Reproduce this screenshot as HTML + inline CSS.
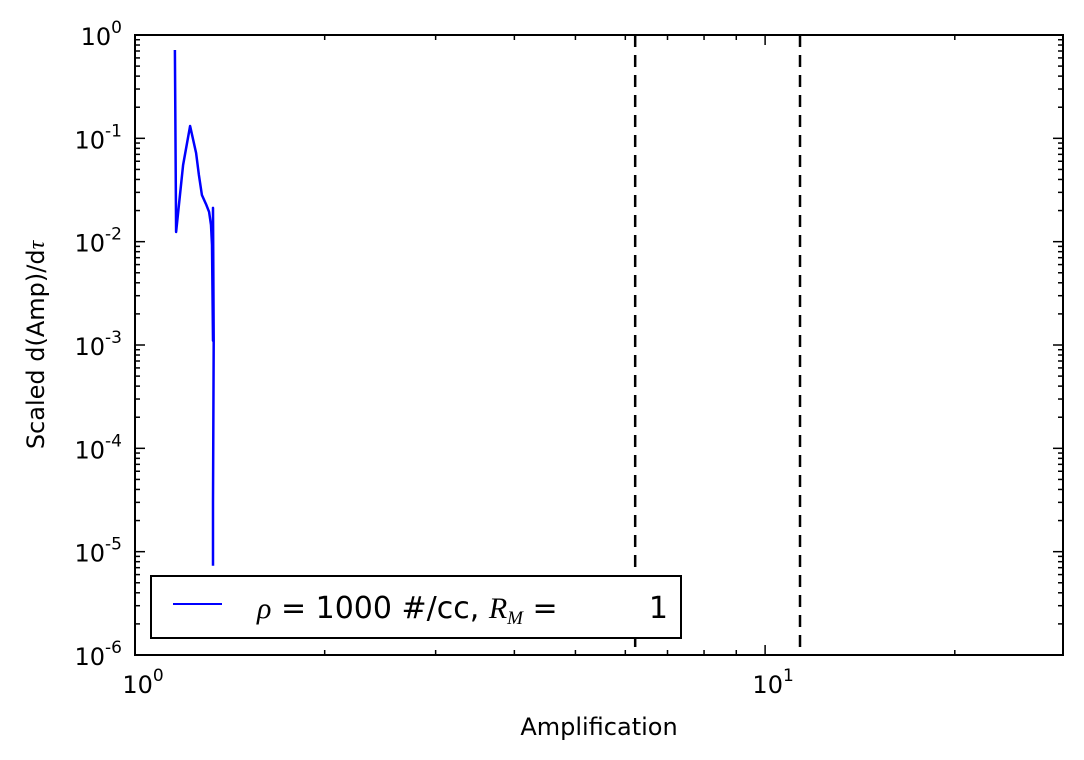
<!DOCTYPE html>
<html><head><meta charset="utf-8">
<style>
html,body{margin:0;padding:0;background:#fff;}
svg{display:block;font-family:"DejaVu Sans","Liberation Sans",sans-serif;}
</style></head>
<body>
<svg id="chart" width="1084" height="760" viewBox="0 0 1084 760" xmlns="http://www.w3.org/2000/svg">
<rect x="0" y="0" width="1084" height="760" fill="#fff"/>
<g id="ticks"></g>
<g id="vlines"></g>
<g id="series"></g>
<rect x="135" y="35" width="928" height="620" fill="none" stroke="#000" stroke-width="2"/>
<g id="labels"></g>
<text x="599" y="735" font-size="24" text-anchor="middle">Amplification</text>
<text transform="translate(44,345) rotate(-90)" font-size="24" text-anchor="middle">Scaled d(Amp)/d<tspan font-family="Liberation Serif,serif" font-style="italic">τ</tspan></text>
<g>
<rect x="151" y="576" width="530" height="62" fill="#fff" stroke="#000" stroke-width="2"/>
<line x1="173" y1="604" x2="222" y2="604" stroke="#0000ff" stroke-width="2"/>
<text x="257" y="618" font-size="30"><tspan font-family="Liberation Serif,serif" font-style="italic">ρ</tspan> = 1000 #/cc, <tspan font-family="Liberation Serif,serif" font-style="italic">R</tspan><tspan font-family="Liberation Serif,serif" font-style="italic" font-size="19" dy="6">M</tspan><tspan dy="-6"> =    </tspan><tspan x="668" text-anchor="end">1</tspan></text>
</g>
</svg>
<script>
const xs = [1.157,1.162,1.192,1.223,1.250,1.263,1.277,1.296,1.311,1.320,1.325,1.330,1.330,1.333,1.330,1.330];
const ys = [0.716,0.0124,0.0552,0.1316,0.0721,0.0442,0.0283,0.0231,0.0194,0.0145,0.0093,0.0011,0.0212,0.0011,0.00003,0.0000073];
const vlineXs = [6.22,11.36];
const yTickExps = [0,-1,-2,-3,-4,-5,-6];
const xTickExps = [0,1];
const NS="http://www.w3.org/2000/svg";
const L=135,R=1063,T=35,B=655,XMIN=0,XMAX=Math.log10(29.7),YMIN=-6,YMAX=0;
function sx(v){return L+(Math.log10(v)-XMIN)/(XMAX-XMIN)*(R-L);}
function sy(v){return B-(Math.log10(v)-YMIN)/(YMAX-YMIN)*(B-T);}
function mk(tag,attrs,parent){const e=document.createElementNS(NS,tag);for(const k in attrs)e.setAttribute(k,attrs[k]);parent.appendChild(e);return e;}
const tg=document.getElementById('ticks'), lg=document.getElementById('labels');
// y ticks
for(let e=-6;e<=0;e++){
  for(let m=1;m<10;m++){
    const v=m*Math.pow(10,e); if(v>1.0001)break; if(m>1&&e===0)break;
    const y=sy(v), len=m===1?10:5;
    const t1=mk('line',{x1:L,x2:L+len,y1:y,y2:y,stroke:'#000','stroke-width':1.5},tg);
    
    
    const t2=mk('line',{x1:R,x2:R-len,y1:y,y2:y,stroke:'#000','stroke-width':1.5},tg);
    
    
  }
}
yTickExps.forEach(e=>{
  const y=sy(Math.pow(10,e));
  const t=mk('text',{x:122,y:y+10,'font-size':24,'text-anchor':'end'},lg);
  
  
  t.innerHTML='10<tspan font-size="17" dy="-12">'+(e<0?'-':'')+Math.abs(e)+'</tspan>';
});
// x ticks
for(let e=0;e<=1;e++){
  for(let m=1;m<10;m++){
    const v=m*Math.pow(10,e); if(Math.log10(v)>XMAX)break;
    const x=sx(v), len=m===1?10:5;
    const t1=mk('line',{x1:x,x2:x,y1:B,y2:B-len,stroke:'#000','stroke-width':1.5},tg);
    
    
    const t2=mk('line',{x1:x,x2:x,y1:T,y2:T+len,stroke:'#000','stroke-width':1.5},tg);
    
    
  }
}
xTickExps.forEach(e=>{
  const x=sx(Math.pow(10,e));
  const t=mk('text',{x:x+8,y:693,'font-size':24,'text-anchor':'middle'},lg);
  
  
  t.innerHTML='10<tspan font-size="17" dy="-12">'+e+'</tspan>';
});
// dashed vertical lines
const vg=document.getElementById('vlines');
vlineXs.forEach(v=>{
  const l=mk('line',{x1:sx(v),x2:sx(v),y1:T,y2:B,stroke:'#000','stroke-width':2.5,'stroke-dasharray':'12,8'},vg);
  
  
});
// series
const sg=document.getElementById('series');
const pts=xs.map((x,i)=>sx(x).toFixed(1)+','+sy(ys[i]).toFixed(1)).join(' ');
const pl=mk('polyline',{points:pts,fill:'none',stroke:'#0000ff','stroke-width':2.5,'stroke-linejoin':'round'},sg);


</script>
</body></html>
